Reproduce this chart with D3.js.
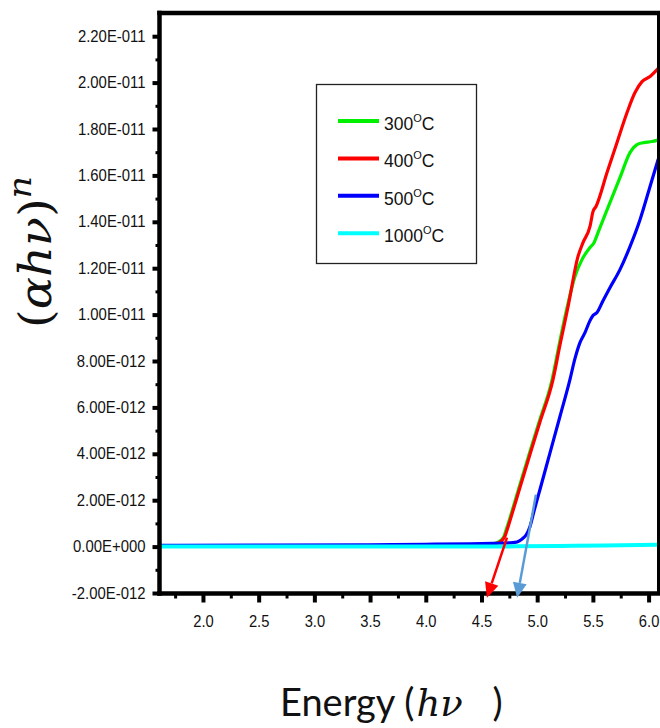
<!DOCTYPE html>
<html>
<head>
<meta charset="utf-8">
<script src="https://cdn.jsdelivr.net/npm/d3@7"></script>
<style>
  html, body { margin: 0; padding: 0; background: #fff; }
  svg { display: block; }
</style>
</head>
<body>
<svg id="chart" width="660" height="728"></svg>
<script>
// ---- data -------------------------------------------------------------
// absorption values are in units of 1e-12
const xTicks = [2.0, 2.5, 3.0, 3.5, 4.0, 4.5, 5.0, 5.5, 6.0];
const xTickLabels = ["2.0", "2.5", "3.0", "3.5", "4.0", "4.5", "5.0", "5.5", "6.0"];
const xMinorTicks = [1.75, 2.25, 2.75, 3.25, 3.75, 4.25, 4.75, 5.25, 5.75];
const yTicks = [-2, 0, 2, 4, 6, 8, 10, 12, 14, 16, 18, 20, 22];
const yTickLabels = ["-2.00E-012", "0.00E+000", "2.00E-012", "4.00E-012", "6.00E-012",
  "8.00E-012", "1.00E-011", "1.20E-011", "1.40E-011", "1.60E-011", "1.80E-011",
  "2.00E-011", "2.20E-011"];
const yMinorTicks = [-1, 1, 3, 5, 7, 9, 11, 13, 15, 17, 19, 21];

const seriesNames = ["300", "400", "500", "1000"];

const energy300 = [1.6, 2.5, 3.5, 4.0, 4.4, 4.55, 4.61, 4.655, 4.682, 4.703, 4.72, 4.748, 4.838, 4.927,
  5.017, 5.134, 5.197, 5.268, 5.339, 5.402, 5.474, 5.51, 5.546, 5.653, 5.743, 5.833, 5.896, 5.95,
  6.031, 6.094];
const value300 = [0.03, 0.03, 0.04, 0.05, 0.06, 0.08, 0.12, 0.2, 0.3, 0.45, 0.7, 1.12, 2.56, 3.97,
  5.37, 7.2, 8.7, 10.3, 11.64, 12.37, 12.89, 13.1, 13.53, 14.83, 15.9, 16.98, 17.33, 17.41,
  17.46, 17.54];

const energy400 = [1.6, 2.5, 3.5, 4.0, 4.4, 4.55, 4.62, 4.666, 4.69, 4.711, 4.729, 4.756, 4.846, 4.935,
  5.025, 5.142, 5.205, 5.277, 5.366, 5.411, 5.474, 5.501, 5.528, 5.627, 5.716, 5.806, 5.878, 5.941,
  6.013, 6.085];
const value400 = [0.03, 0.03, 0.04, 0.05, 0.06, 0.08, 0.12, 0.2, 0.3, 0.45, 0.7, 1.12, 2.56, 3.97,
  5.37, 7.2, 8.7, 10.34, 12.5, 13.1, 13.8, 14.44, 14.66, 16.12, 17.41, 18.7, 19.57, 20.04,
  20.26, 20.6];

const energy500 = [1.6, 2.5, 3.5, 4.0, 4.4, 4.6, 4.75, 4.8, 4.84, 4.87, 4.9, 4.935, 4.97, 5.025, 5.115,
  5.205, 5.294, 5.339, 5.384, 5.429, 5.474, 5.501, 5.537, 5.591, 5.653, 5.743, 5.833, 5.923, 6.013,
  6.085];
const value500 = [0.05, 0.06, 0.08, 0.1, 0.12, 0.14, 0.16, 0.18, 0.25, 0.35, 0.5, 0.86, 1.5, 2.46, 4.04,
  5.62, 7.2, 8.1, 8.79, 9.22, 9.74, 9.96, 10.09, 10.6, 11.16, 11.94, 12.93, 14.09, 15.52,
  16.68];

const energy1000 = [1.6, 3.0, 4.0, 4.8, 5.2, 5.6, 6.08];
const value1000 = [0.0, 0.0, 0.0, 0.01, 0.03, 0.05, 0.08];

// band-gap extrapolation arrows: [startEnergy, startValue, endEnergy, endValue]
const arrowRed = [4.729, 0.39, 4.549, -2.2];
const arrowBlue = [4.989, 2.24, 4.82, -2.2];

// ---- styles -----------------------------------------------------------
const seriesColors = ["#00f000", "#ff0000", "#0000ff", "#00ffff"];
const arrowColors = ["#ff0000", "#5b9bd5"];

// ---- layout -----------------------------------------------------------
const svg = d3.select("#chart");
const plot = { left: 159.5, right: 657.5, top: 13, bottom: 593.5 };

const x = d3.scaleLinear().domain([1.6, 6.08]).range([158.4, 657.5]);
const y = d3.scaleLinear().domain([-2, 23]).range([593, 13]);

const tickFont = "'Liberation Sans', Arial, sans-serif";
const mathFont = "'DejaVu Serif', 'Liberation Serif', serif";

function narrow(sel, f) {
  sel.each(function () {
    const w = this.getComputedTextLength();
    this.setAttribute("textLength", (w * f).toFixed(2));
    this.setAttribute("lengthAdjust", "spacingAndGlyphs");
  });
}

// clip for the curves
svg.append("defs").append("clipPath").attr("id", "plotClip")
  .append("rect")
  .attr("x", plot.left).attr("y", plot.top)
  .attr("width", plot.right - plot.left).attr("height", plot.bottom - plot.top);

// ---- curves -----------------------------------------------------------
const energies = [energy300, energy400, energy500, energy1000];
const values = [value300, value400, value500, value1000];

const line = d3.line()
  .x(d => x(d[0]))
  .y(d => y(d[1]))
  .curve(d3.curveMonotoneX);

const curves = svg.append("g").attr("clip-path", "url(#plotClip)");
seriesNames.forEach((name, i) => {
  const pts = energies[i].map((e, j) => [e, values[i][j]]);
  curves.append("path")
    .datum(pts)
    .attr("d", line)
    .attr("fill", "none")
    .attr("stroke", seriesColors[i])
    .attr("stroke-width", i === 3 ? 4 : 3.2)
    .attr("stroke-linejoin", "round")
    .attr("stroke-linecap", "round");
});

// ---- arrows -----------------------------------------------------------
function drawArrow(a, color) {
  const x0 = x(a[0]), y0 = y(a[1]), x1 = x(a[2]), y1 = y(a[3]);
  const dx = x1 - x0, dy = y1 - y0, len = Math.hypot(dx, dy);
  const ux = dx / len, uy = dy / len;
  const headLen = 15, headHalf = 7;
  const bx = x1 - ux * headLen, by = y1 - uy * headLen;
  svg.append("line")
    .attr("x1", x0).attr("y1", y0).attr("x2", bx).attr("y2", by)
    .attr("stroke", color).attr("stroke-width", 2.5);
  svg.append("polygon")
    .attr("points", [
      [x1, y1],
      [bx - uy * headHalf, by + ux * headHalf],
      [bx + uy * headHalf, by - ux * headHalf]
    ].map(p => p.join(",")).join(" "))
    .attr("fill", color);
}

// ---- axes -------------------------------------------------------------
const yAxis = svg.append("g")
  .attr("transform", `translate(${plot.left},0)`)
  .call(d3.axisLeft(y).tickValues(yTicks)
    .tickFormat((d, i) => yTickLabels[i])
    .tickSize(7).tickSizeOuter(0).tickPadding(7));
yAxis.select(".domain").remove();
yAxis.selectAll(".tick line").attr("stroke", "#000").attr("stroke-width", 4);
yAxis.selectAll(".tick text")
  .attr("font-family", tickFont).attr("font-size", 16).attr("fill", "#111")
  .call(narrow, 0.93);

const yMinor = svg.append("g")
  .attr("transform", `translate(${plot.left},0)`)
  .call(d3.axisLeft(y).tickValues(yMinorTicks).tickFormat("").tickSize(4).tickSizeOuter(0));
yMinor.select(".domain").remove();
yMinor.selectAll(".tick line").attr("stroke", "#000").attr("stroke-width", 3);

const xAxis = svg.append("g")
  .attr("transform", `translate(0,${plot.bottom})`)
  .call(d3.axisBottom(x).tickValues(xTicks)
    .tickFormat((d, i) => xTickLabels[i])
    .tickSize(9).tickSizeOuter(0).tickPadding(13));
xAxis.select(".domain").remove();
xAxis.selectAll(".tick line").attr("stroke", "#000").attr("stroke-width", 4);
xAxis.selectAll(".tick text")
  .attr("font-family", tickFont).attr("font-size", 16).attr("fill", "#111")
  .call(narrow, 0.92);

const xMinor = svg.append("g")
  .attr("transform", `translate(0,${plot.bottom})`)
  .call(d3.axisBottom(x).tickValues(xMinorTicks).tickFormat("").tickSize(5).tickSizeOuter(0));
xMinor.select(".domain").remove();
xMinor.selectAll(".tick line").attr("stroke", "#000").attr("stroke-width", 3);

// frame
const frame = svg.append("g").attr("stroke", "#000").attr("stroke-linecap", "square");
frame.append("line").attr("x1", plot.left).attr("y1", plot.top).attr("x2", 660).attr("y2", plot.top)
  .attr("stroke-width", 4.5);
frame.append("line").attr("x1", plot.left).attr("y1", plot.top).attr("x2", plot.left).attr("y2", plot.bottom)
  .attr("stroke-width", 4.5);
frame.append("line").attr("x1", plot.left).attr("y1", plot.bottom).attr("x2", 660).attr("y2", plot.bottom)
  .attr("stroke-width", 4.5);
frame.append("line").attr("x1", 658.5).attr("y1", plot.top).attr("x2", 658.5).attr("y2", plot.bottom)
  .attr("stroke-width", 3);

drawArrow(arrowRed, arrowColors[0]);
drawArrow(arrowBlue, arrowColors[1]);

// ---- legend -----------------------------------------------------------
const legend = svg.append("g");
legend.append("rect")
  .attr("x", 316.5).attr("y", 84.5).attr("width", 160).attr("height", 179)
  .attr("fill", "#fff").attr("stroke", "#222").attr("stroke-width", 1.3);
seriesNames.forEach((name, i) => {
  const ly = 121 + i * 37.4;
  legend.append("line")
    .attr("x1", 338).attr("x2", 379).attr("y1", ly).attr("y2", ly)
    .attr("stroke", seriesColors[i]).attr("stroke-width", 4);
  const t = legend.append("text")
    .attr("x", 384).attr("y", ly + 9)
    .attr("font-family", tickFont).attr("font-size", 17.5).attr("fill", "#111");
  t.append("tspan").text(name);
  t.append("tspan").attr("font-size", 11).attr("dy", -8).text("O");
  t.append("tspan").attr("dy", 8).text("C");
});

// ---- axis titles ------------------------------------------------------
const yTitle = svg.append("text")
  .attr("transform", "translate(51,252) rotate(-90)")
  .attr("text-anchor", "middle")
  .attr("font-family", mathFont)
  .attr("font-size", 44).attr("fill", "#111");
yTitle.append("tspan").text("(");
yTitle.append("tspan").attr("font-style", "italic").text("αhν");
yTitle.append("tspan").text(")");
yTitle.append("tspan").attr("font-style", "italic").attr("font-size", 32).attr("dy", -20).text("n");
narrow(yTitle, 1);
yTitle.attr("textLength", 152);

const xTitle = svg.append("text")
  .attr("x", 280).attr("y", 716)
  .attr("font-family", "Lato, 'Open Sans', sans-serif")
  .attr("font-size", 38).attr("fill", "#111");
xTitle.append("tspan").text("Energy (");
xTitle.append("tspan").attr("font-family", mathFont).attr("font-style", "italic")
  .attr("font-size", 37).attr("dx", 2).text("hν");
xTitle.append("tspan").attr("dx", 20).text(" )");
</script>
</body>
</html>
